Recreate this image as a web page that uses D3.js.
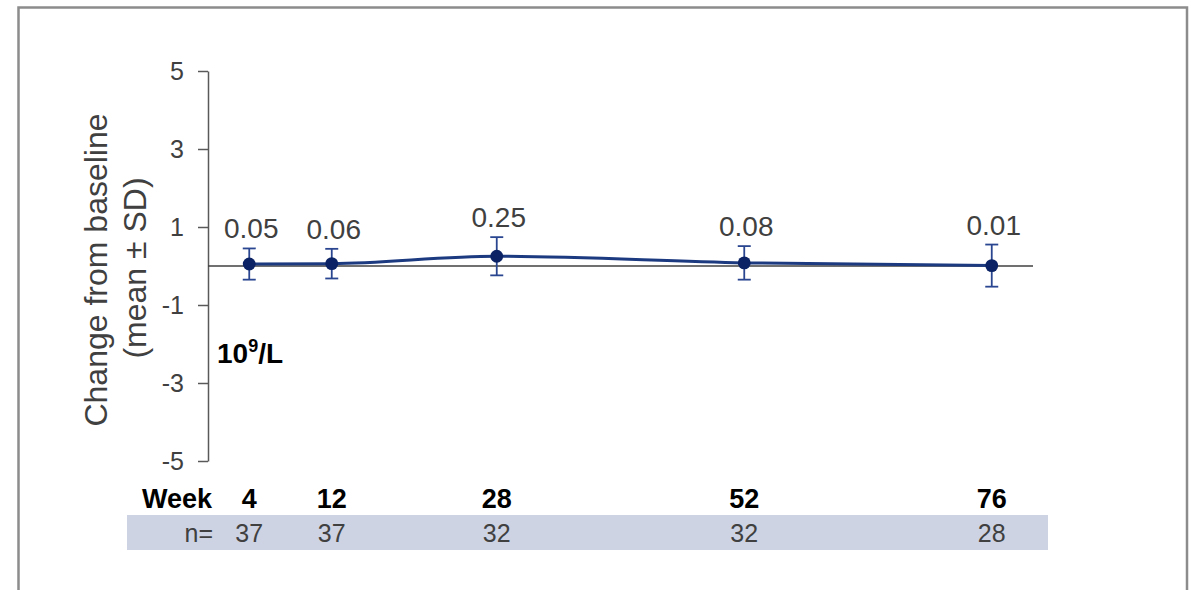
<!DOCTYPE html>
<html><head><meta charset="utf-8">
<script src="https://cdn.jsdelivr.net/npm/d3@7"></script>
<style>body{margin:0;background:#fff}svg{display:block;font-family:"Liberation Sans",Arial,sans-serif}</style>
</head><body>
<script>
const weeks = [4, 12, 28, 52, 76];
const means = [0.05, 0.06, 0.25, 0.08, 0.01];
const sds = [0.40, 0.38, 0.49, 0.43, 0.54];
const nValues = [37, 37, 32, 32, 28];
const yTicks = [5, 3, 1, -1, -3, -5];
const labels = ["0.05", "0.06", "0.25", "0.08", "0.01"];

const W = 1198, H = 590;
const svg = d3.select("body").append("svg").attr("width", W).attr("height", H);

// outer frame
svg.append("rect").attr("x", 18.5).attr("y", 7.5).attr("width", 1168.5).attr("height", 600)
  .attr("fill", "none").attr("stroke", "#8c8c8c").attr("stroke-width", 2.5);

const x = d3.scaleLinear().domain([0, 80]).range([208, 1033]);
const y = d3.scaleLinear().domain([-5, 5]).range([461, 71]);

const gray = "#404040";

// y axis
const yAxis = svg.append("g").attr("transform", "translate(208,0)")
  .call(d3.axisLeft(y).tickValues(yTicks).tickFormat(d => String(d))
    .tickSize(10).tickPadding(14).tickSizeOuter(0));
yAxis.select(".domain").attr("stroke", "#595959").attr("stroke-width", 1.5);
yAxis.selectAll(".tick line").attr("stroke", "#595959").attr("stroke-width", 1.5);
yAxis.selectAll(".tick text").attr("fill", gray).attr("font-size", 25)
  .attr("font-family", "Liberation Sans, Arial, sans-serif");

// zero line
svg.append("line").attr("x1", x(0)).attr("x2", x(80)).attr("y1", y(0)).attr("y2", y(0))
  .attr("stroke", "#404040").attr("stroke-width", 1.5);

// y title
svg.append("text").attr("transform", `translate(107,${y(0)+4}) rotate(-90)`)
  .attr("fill", gray).attr("font-size", 32).attr("text-anchor", "middle").text("Change from baseline");
svg.append("text").attr("transform", `translate(146,${y(0)+2}) rotate(-90)`)
  .attr("fill", gray).attr("font-size", 32).attr("text-anchor", "middle").text("(mean ± SD)");

// unit label
const u = svg.append("text").attr("x", 217).attr("y", 363).attr("font-size", 28)
  .attr("font-weight", "bold").attr("fill", "#000");
u.append("tspan").text("10");
u.append("tspan").attr("dy", -11).attr("font-size", 18).text("9");
u.append("tspan").attr("dy", 11).text("/L");

const data = weeks.map((w, i) => ({w, m: means[i], sd: sds[i], n: nValues[i], lab: labels[i]}));
const navy = "#1c3a80";

// line
svg.append("path").datum(data)
  .attr("d", d3.line().x(d => x(d.w)).y(d => y(d.m)).curve(d3.curveMonotoneX))
  .attr("fill", "none").attr("stroke", navy).attr("stroke-width", 3);

// error bars
const eb = svg.append("g").attr("stroke", "#2a4690").attr("stroke-width", 1.8);
data.forEach(d => {
  eb.append("line").attr("x1", x(d.w)).attr("x2", x(d.w)).attr("y1", y(d.m + d.sd)).attr("y2", y(d.m - d.sd));
  [d.m + d.sd, d.m - d.sd].forEach(v => {
    eb.append("line").attr("x1", x(d.w) - 6.5).attr("x2", x(d.w) + 6.5).attr("y1", y(v)).attr("y2", y(v));
  });
});

// markers
svg.append("g").selectAll("path").data(data).join("path")
  .attr("transform", d => `translate(${x(d.w)},${y(d.m)})`)
  .attr("d", d3.symbol().type(d3.symbolCircle).size(130))
  .attr("fill", "#0b2364");

// value labels
svg.append("g").selectAll("text").data(data).join("text")
  .attr("x", d => x(d.w) + 2).attr("y", d => y(d.m + d.sd) - 10)
  .attr("text-anchor", "middle").attr("font-size", 28).attr("fill", gray).text(d => d.lab);

// Week row
svg.append("text").attr("x", 212).attr("y", 508).attr("text-anchor", "end")
  .attr("font-size", 27).attr("font-weight", "bold").attr("fill", "#000").text("Week");
svg.append("g").selectAll("text").data(data).join("text")
  .attr("x", d => x(d.w)).attr("y", 508).attr("text-anchor", "middle")
  .attr("font-size", 27).attr("font-weight", "bold").attr("fill", "#000").text(d => d.w);

// n row band
svg.append("rect").attr("x", 127).attr("y", 515).attr("width", 921).attr("height", 35).attr("fill", "#cdd3e3");
svg.append("text").attr("x", 213).attr("y", 542).attr("text-anchor", "end")
  .attr("font-size", 25).attr("fill", gray).text("n=");
svg.append("g").selectAll("text").data(data).join("text")
  .attr("x", d => x(d.w)).attr("y", 542).attr("text-anchor", "middle")
  .attr("font-size", 25).attr("fill", gray).text(d => d.n);
</script>
</body></html>
